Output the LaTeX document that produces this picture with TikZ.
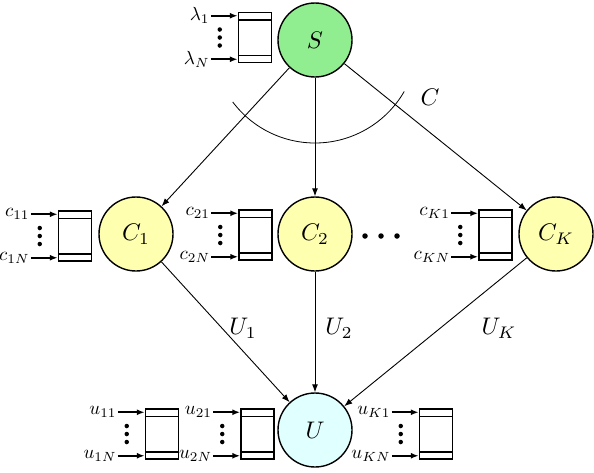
\documentclass[tikz,border=0pt]{standalone}
\usetikzlibrary{arrows.meta,calc}
\definecolor{sgreen}{RGB}{144,238,144}
\definecolor{cyel}{RGB}{255,255,176}
\definecolor{ucyan}{RGB}{224,255,255}
\tikzset{
  big/.style={scale=2.4},
  small/.style={scale=1.9},
  server/.style={circle,draw,line width=1.4pt,minimum size=74pt,inner sep=0pt},
  qbox/.style={draw,line width=1.5pt,minimum width=33pt,minimum height=50pt,inner sep=0pt},
  edge/.style={line width=0.9pt,-{Latex[length=8pt,width=6pt]}},
  qarrow/.style={line width=1.8pt,-{Latex[length=8pt,width=6pt]}},
  qdot/.style={circle,fill,inner sep=0pt,minimum size=4.5pt},
}
\newcommand\myqueue[5]{%
  % #1 name, #2 x center, #3 y center, #4 top label, #5 bottom label
  \node[qbox] (#1) at (#2,#3) {};
  \draw[line width=1.5pt] ($(#1.north west)+(0,8)$) -- ($(#1.north east)+(0,8)$);
  \draw[line width=1.5pt] ($(#1.south west)+(0,-8)$) -- ($(#1.south east)+(0,-8)$);
  \coordinate (#1a) at ($(#1.north west)+(0,4)$);
  \coordinate (#1b) at ($(#1.south west)+(0,-4)$);
  \coordinate (#1as) at ($(#1a)+(-27,0)$);
  \coordinate (#1bs) at ($(#1b)+(-27,0)$);
  \node[small,anchor=east,inner sep=0.5pt] (#1la) at (#1as) {$#4$};
  \node[small,anchor=east,inner sep=0.5pt] (#1lb) at (#1bs) {$#5$};
  \draw[qarrow] (#1as) -- (#1a);
  \draw[qarrow] (#1bs) -- (#1b);
  \node[qdot] (#1d1) at ($(#1.west)+(-18,-8)$) {};
  \node[qdot] (#1d2) at ($(#1.west)+(-18,0)$) {};
  \node[qdot] (#1d3) at ($(#1.west)+(-18,8)$) {};
}
\begin{document}
\begin{tikzpicture}[x=1pt,y=-1pt]
\useasboundingbox (0,0) rectangle (594,472);
\node[server,fill=sgreen] (S) at (315,40) {};
\node[server,fill=cyel] (C1) at (136,234) {};
\node[server,fill=cyel] (C2) at (315,234) {};
\node[server,fill=cyel] (CK) at (556,234) {};
\node[server,fill=ucyan] (U) at (315,430) {};
\node[big] (Stxt) at (S) {$S$};
\node[big] (C1txt) at (C1) {$C_1$};
\node[big] (C2txt) at (C2) {$C_2$};
\node[big] (CKtxt) at (CK) {$C_K$};
\node[big] (Utxt) at (U) {$U$};

\myqueue{qS}{255}{37.5}{\lambda_1}{\lambda_N}
\myqueue{qC1}{75}{236}{c_{11}}{c_{1N}}
\myqueue{qC2}{255.5}{235}{c_{21}}{c_{2N}}
\myqueue{qCK}{495.5}{235}{c_{K1}}{c_{KN}}
\myqueue{qU1}{162}{434}{u_{11}}{u_{1N}}
\myqueue{qU2}{257.5}{434}{u_{21}}{u_{2N}}
\myqueue{qUK}{436}{434}{u_{K1}}{u_{KN}}

\node[qdot,minimum size=5.5pt] (d1) at (365,236) {};
\node[qdot,minimum size=5.5pt] (d2) at (381,236) {};
\node[qdot,minimum size=5.5pt] (d3) at (397,236) {};

\draw[edge] (S) -- (C1);
\draw[edge] (S) -- (C2);
\draw[edge] (S) -- (CK);
\draw[edge] (C1) -- (U);
\draw[edge] (C2) -- (U);
\draw[edge] (CK) -- (U);

\draw[line width=0.8pt] ($(S.center)+(143:103)$) arc[start angle=143,end angle=30,radius=103];
\node[big] (Clab) at (430,97) {$C$};
\node[big] (U1lab) at (243,328) {$U_1$};
\node[big] (U2lab) at (339,328) {$U_2$};
\node[big] (UKlab) at (499,328) {$U_K$};
\end{tikzpicture}
\end{document}
